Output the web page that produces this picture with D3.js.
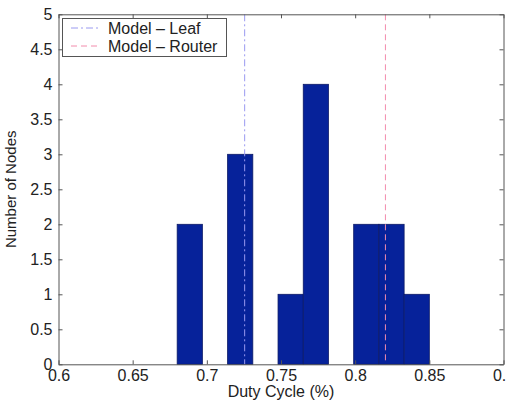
<!DOCTYPE html>
<html><head><meta charset="utf-8">
<script src="https://cdn.jsdelivr.net/npm/d3@7"></script>
<style>
body{margin:0;background:#fff;}
text{font-family:"Liberation Sans",Arial,sans-serif;fill:#222;}
</style></head>
<body><svg id="c" width="506" height="403"></svg>
<script>
const binEdges = [0.680,0.697,0.714,0.731,0.748,0.765,0.782,0.799,0.816,0.833,0.850];
const counts   = [2,0,3,0,1,4,0,2,2,1];
const xTicks = [0.6,0.65,0.7,0.75,0.8,0.85,0.9];
const yTicks = [0,0.5,1,1.5,2,2.5,3,3.5,4,4.5,5];
const modelLines = [
  {name:"Model \u2013 Leaf", value:0.7255, color:"#9a9af0", dash:"7,3,2,3"},
  {name:"Model \u2013 Router", value:0.8204, color:"#f28cac", dash:"6,4"}
];

(function(){
const svg = d3.select("#c");
const L=58.5, R=503.5, T=14.3, B=364.3;
const x = d3.scaleLinear().domain([0.6,0.9]).range([L,R]);
const y = d3.scaleLinear().domain([0,5]).range([B,T]);

const bins = counts.map((c,i)=>({x0:binEdges[i],x1:binEdges[i+1],c}));
svg.append("g").selectAll("rect").data(bins.filter(d=>d.c>0)).join("rect")
  .attr("x",d=>x(d.x0)).attr("width",d=>x(d.x1)-x(d.x0))
  .attr("y",d=>y(d.c)).attr("height",d=>y(0)-y(d.c))
  .attr("fill","#06229a").attr("stroke","#0c1a66").attr("stroke-width",0.8);

svg.append("g").selectAll("line").data(modelLines).join("line")
  .attr("x1",d=>x(d.value)).attr("x2",d=>x(d.value))
  .attr("y1",T).attr("y2",B)
  .attr("stroke",d=>d.color).attr("stroke-width",1).attr("stroke-dasharray",d=>d.dash);

const fmt = d=>String(d);
const ax = svg.append("g").attr("class","axes");
const gB = ax.append("g").attr("transform",`translate(0,${B})`)
  .call(d3.axisBottom(x).tickValues(xTicks).tickFormat(fmt).tickSizeInner(-4).tickSizeOuter(0).tickPadding(8));
const gL = ax.append("g").attr("transform",`translate(${L},0)`)
  .call(d3.axisLeft(y).tickValues(yTicks).tickFormat(fmt).tickSizeInner(-4).tickSizeOuter(0).tickPadding(6));
ax.append("g").attr("transform",`translate(0,${T})`)
  .call(d3.axisTop(x).tickValues(xTicks).tickFormat("").tickSizeInner(-4).tickSizeOuter(0));
ax.append("g").attr("transform",`translate(${R},0)`)
  .call(d3.axisRight(y).tickValues(yTicks).tickFormat("").tickSizeInner(-4).tickSizeOuter(0));
ax.selectAll(".domain").attr("stroke","#555");
ax.selectAll(".tick line").attr("stroke","#555");
ax.selectAll("text").attr("font-size",16).attr("font-family","Liberation Sans, Arial, sans-serif").attr("fill","#222");
gB.selectAll("text").attr("dy","0.55em");

svg.append("text").attr("x",(L+R)/2).attr("y",397).attr("text-anchor","middle")
  .attr("font-size",16).text("Duty Cycle (%)");
svg.append("text").attr("transform",`translate(16,${(T+B)/2}) rotate(-90)`)
  .attr("text-anchor","middle").attr("font-size",15).text("Number of Nodes");

const lg = svg.append("g");
lg.append("rect").attr("x",62.5).attr("y",18.5).attr("width",164).attr("height",38)
  .attr("fill","#fff").attr("stroke","#555").attr("stroke-width",1);
modelLines.forEach((d,i)=>{
  const yy = 28+i*18;
  lg.append("line").attr("x1",71).attr("x2",99).attr("y1",yy).attr("y2",yy)
    .attr("stroke",d.color).attr("stroke-dasharray",d.dash);
  lg.append("text").attr("x",108).attr("y",yy+6).attr("font-size",16).text(d.name);
});
})();
</script></body></html>
